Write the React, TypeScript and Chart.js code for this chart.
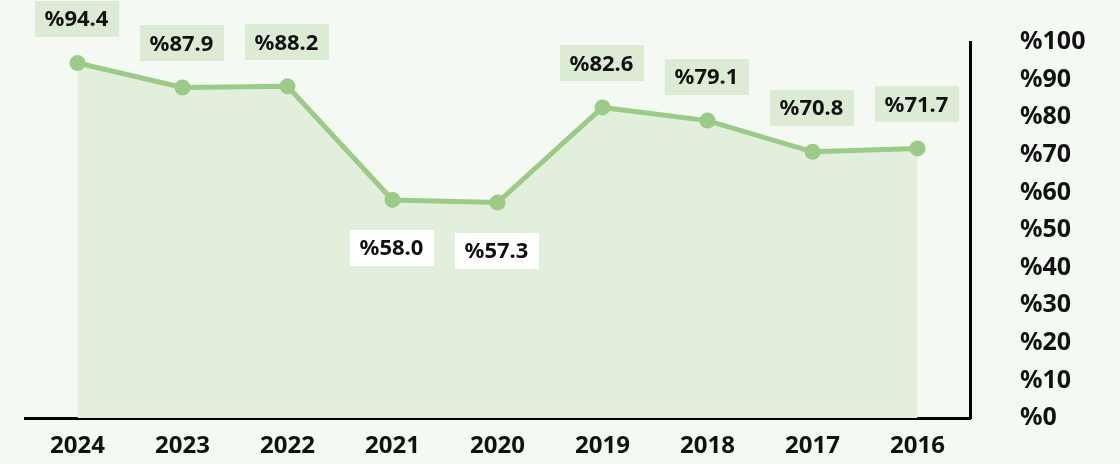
import React, { useEffect, useRef } from "react";
import { Chart, registerables } from "chart.js";

Chart.register(...registerables);

const years = ["2024", "2023", "2022", "2021", "2020", "2019", "2018", "2017", "2016"];
const rates = [94.4, 87.9, 88.2, 58.0, 57.3, 82.6, 79.1, 70.8, 71.7];
const labelsBelow = ["2021", "2020"];

const FONT = "'Noto Sans', 'Open Sans', sans-serif";
const BG = "#f4f9f3";
const LINE = "#9ccb87";
const AREA = "#e2efdc";
const BOX_ABOVE = "#dcecd4";
const BOX_BELOW = "#ffffff";
const TEXT = "#111111";

const bgPlugin = {
  id: "bg",
  beforeDraw(chart: any) {
    const { ctx, width, height } = chart;
    ctx.save();
    ctx.fillStyle = BG;
    ctx.fillRect(0, 0, width, height);
    ctx.restore();
  },
};

const labelPlugin = {
  id: "valueLabels",
  afterDatasetsDraw(chart: any) {
    const { ctx } = chart;
    const meta = chart.getDatasetMeta(0);
    ctx.save();
    ctx.font = `bold 22px ${FONT}`;
    ctx.textAlign = "center";
    ctx.textBaseline = "middle";
    meta.data.forEach((pt: any, i: number) => {
      const text = "%" + rates[i].toFixed(1);
      const below = labelsBelow.includes(years[i]);
      const cx = pt.x - 1;
      const cy = below ? pt.y + 48 : pt.y - 44;
      const w = ctx.measureText(text).width + 20;
      const h = 36;
      ctx.fillStyle = below ? BOX_BELOW : BOX_ABOVE;
      ctx.fillRect(Math.round(cx - w / 2), Math.round(cy - h / 2), Math.round(w), h);
      ctx.fillStyle = TEXT;
      ctx.fillText(text, cx, cy + 1);
    });
    ctx.restore();
  },
};

export default function App() {
  const ref = useRef<HTMLCanvasElement | null>(null);

  useEffect(() => {
    document.body.style.margin = "0";
    document.body.style.background = BG;
    if (!ref.current) return;
    const chart = new Chart(ref.current, {
      type: "line",
      data: {
        labels: years,
        datasets: [
          {
            data: rates,
            borderColor: LINE,
            backgroundColor: AREA,
            borderWidth: 5,
            fill: "origin",
            tension: 0,
            pointRadius: 8,
            pointBackgroundColor: LINE,
            pointBorderColor: LINE,
            pointBorderWidth: 0,
          },
        ],
      },
      options: {
        responsive: false,
        animation: false,
        layout: { padding: { top: 42, left: 25, right: 0, bottom: 0 } },
        plugins: { legend: { display: false }, tooltip: { enabled: false } },
        scales: {
          x: {
            type: "category",
            offset: true,
            grid: { display: false, drawTicks: false },
            border: { display: true, color: "#000", width: 3 },
            ticks: {
              color: TEXT,
              font: { family: FONT, size: 24, weight: "bold" },
              padding: 14,
              maxRotation: 0,
            },
            afterFit(scale: any) {
              scale.height = 46;
            },
          },
          y: {
            position: "right",
            min: 0,
            max: 100,
            grid: { display: false, drawTicks: true, tickLength: 45 },
            border: { display: true, color: "#000", width: 3 },
            ticks: {
              stepSize: 10,
              color: TEXT,
              font: { family: FONT, size: 25, weight: "bold" },
              padding: 5,
              callback: (v: any) => "%" + v,
            },
            afterFit(scale: any) {
              scale.width = 150;
            },
          },
        },
      },
      plugins: [bgPlugin, labelPlugin],
    });
    return () => chart.destroy();
  }, []);

  return (
    <div style={{ width: 1120, height: 464 }}>
      <canvas ref={ref} width={1120} height={464} />
    </div>
  );
}
